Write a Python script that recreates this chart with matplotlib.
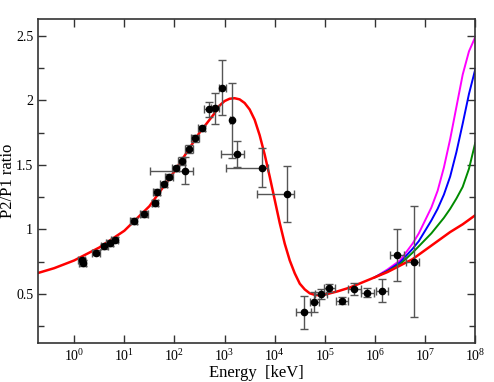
import numpy as np
import matplotlib
matplotlib.use('Agg')
import matplotlib.pyplot as plt
from matplotlib.ticker import MultipleLocator, FixedLocator, NullLocator, FormatStrFormatter, LogFormatterSciNotation

plt.rcParams['font.family'] = 'Liberation Serif'
plt.rcParams['mathtext.fontset'] = 'custom'
plt.rcParams['mathtext.rm'] = 'Liberation Serif'

# measured points
energy = [1.4, 1.5, 2.7, 4.0, 5.1, 6.4, 15.3, 25, 41, 44, 61, 79, 107, 141, 166, 194, 260, 347,
          480, 650, 900, 1390, 1770, 5480, 17600, 39000, 61700, 84000, 121000, 220000,
          388000, 705000, 1.39e6, 2.75e6, 6.1e6]
energy_lo = [1.2, 1.27, 2.3, 3.4, 4.3, 5.4, 13, 21, 35, 37, 51, 66, 90, 118, 33, 163, 218, 290,
             390, 530, 780, 1290, 850, 1070, 4400, 27000, 50000, 64000, 95000, 165000,
             290000, 520000, 1.05e6, 1.96e6, 4.1e6]
energy_hi = [1.65, 1.75, 3.2, 4.7, 6.0, 7.5, 18, 30, 48, 52, 72, 93, 126, 166, 235, 230, 310, 410,
             580, 780, 1050, 1500, 2400, 7350, 24600, 52000, 78000, 110000, 160000, 290000,
             520000, 950000, 1.8e6, 3.8e6, 7.7e6]
ratio = [0.76, 0.74, 0.82, 0.87, 0.895, 0.92, 1.065, 1.12, 1.205, 1.29, 1.35, 1.41, 1.475, 1.53,
         1.455, 1.625, 1.705, 1.785, 1.93, 1.94, 2.10, 1.845, 1.585, 1.478, 1.274, 0.358,
         0.438, 0.498, 0.547, 0.449, 0.539, 0.511, 0.527, 0.80, 0.75]
ratio_err = [0.02, 0.02, 0.02, 0.02, 0.02, 0.02, 0.02, 0.02, 0.02, 0.02, 0.02, 0.02, 0.02, 0.03,
             0.105, 0.03, 0.03, 0.02, 0.06, 0.12, 0.21, 0.29, 0.10, 0.15, 0.22, 0.13,
             0.08, 0.04, 0.03, 0.03, 0.05, 0.035, 0.09, 0.20, 0.43]

# model curve (log10 E, ratio)
red_logE = [-0.72, -0.4, 0.0, 0.5, 1.0, 1.5, 2.0, 2.5, 2.8, 2.9, 3.0, 3.1, 3.2, 3.3, 3.4,
            3.5, 3.6, 3.7, 3.8, 3.9, 4.0, 4.1, 4.2, 4.3, 4.4, 4.5, 4.6, 4.7, 4.8, 4.9,
            5.0, 5.25, 5.5, 5.75, 6.0, 6.25, 6.5, 6.75, 7.0, 7.25, 7.5, 7.75, 8.0]
red_ratio = [0.663, 0.70, 0.76, 0.86, 0.99, 1.18, 1.45, 1.75, 1.90, 1.96, 1.995, 2.013, 2.017,
             2.008, 1.98, 1.93, 1.85, 1.73, 1.58, 1.41, 1.23, 1.05, 0.89, 0.76, 0.66, 0.58,
             0.535, 0.505, 0.493, 0.49, 0.495, 0.52, 0.55, 0.59, 0.63, 0.67, 0.72, 0.77,
             0.84, 0.91, 0.98, 1.04, 1.11]

hi_logE = [6.0, 6.25, 6.5, 6.75, 6.875, 7.0, 7.125, 7.25, 7.375, 7.5, 7.625, 7.75, 7.875, 8.0]
magenta_ratio = [0.63, 0.69, 0.76, 0.89, 0.97, 1.07, 1.17, 1.30, 1.48, 1.70, 1.95, 2.20, 2.38, 2.49]
blue_ratio = [0.63, 0.68, 0.745, 0.85, 0.91, 0.99, 1.07, 1.16, 1.27, 1.41, 1.60, 1.82, 2.05, 2.24]
green_ratio = [0.63, 0.675, 0.73, 0.82, 0.87, 0.92, 0.97, 1.03, 1.09, 1.16, 1.24, 1.33, 1.47, 1.67]

xticks = [1, 10, 100, 1e3, 1e4, 1e5, 1e6, 1e7, 1e8]

fig = plt.figure(figsize=(4.94, 3.82), dpi=100)
ax = fig.add_axes([0.077, 0.102, 0.885, 0.848])

hx = np.array(hi_logE)
ax.plot(10 ** hx, magenta_ratio, color='#ff00ff', lw=1.4)
ax.plot(10 ** hx, blue_ratio, color='#0000ff', lw=1.4)
ax.plot(10 ** hx, green_ratio, color='#008b00', lw=1.4)
ax.plot(10 ** np.array(red_logE), red_ratio, color='#ff0000', lw=1.8)

e = np.array(energy)
xerr = [e - np.array(energy_lo), np.array(energy_hi) - e]
ax.errorbar(e, ratio, xerr=xerr, yerr=ratio_err, fmt='o', color='black', ms=4.5,
            ecolor='#555555', elinewidth=1, capsize=3, capthick=1, zorder=5)

ax.set_xscale('log')
ax.set_xlim(0.19, 1e8)
ax.set_ylim(0.12, 2.63)
ax.xaxis.set_major_locator(FixedLocator(xticks))
ax.xaxis.set_major_formatter(LogFormatterSciNotation())
ax.xaxis.set_minor_locator(NullLocator())
ax.yaxis.set_major_locator(MultipleLocator(0.5))
ax.yaxis.set_minor_locator(MultipleLocator(0.25))
ax.yaxis.set_major_formatter(FormatStrFormatter('%g'))
ax.tick_params(which='both', direction='in', top=True, right=True, colors='#333333',
               labelcolor='black', labelsize=10, width=1)
ax.tick_params(which='major', length=6)
ax.tick_params(which='minor', length=4)
ax.tick_params(axis='x', pad=4)
for s in ax.spines.values():
    s.set_color('#333333')
    s.set_linewidth(1.2)

ax.set_xlabel('Energy  [keV]', fontsize=12)
ax.set_ylabel('P2/P1 ratio', fontsize=12)
ax.xaxis.set_label_coords(0.5, -0.068)
ax.yaxis.set_label_coords(-0.05, 0.5)
ax.xaxis.label.set_va('top')

fig.savefig('out.png', dpi=100)
